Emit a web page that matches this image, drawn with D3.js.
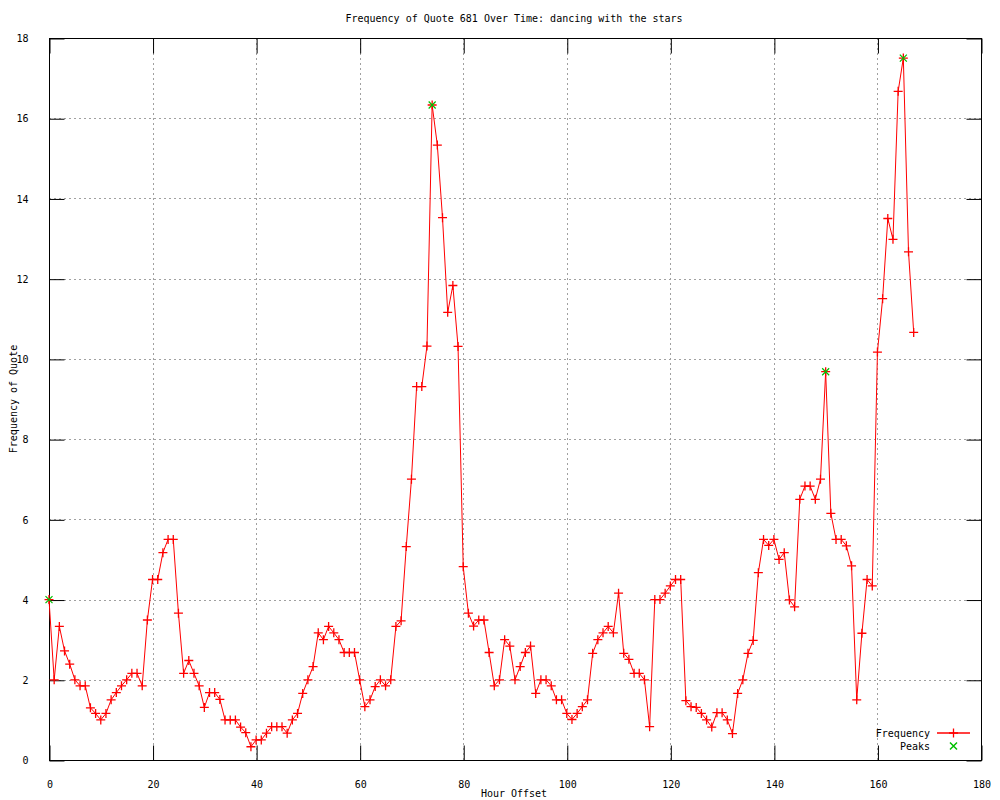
<!DOCTYPE html>
<html>
<head>
<meta charset="utf-8">
<script src="https://cdn.jsdelivr.net/npm/d3@7"></script>
<style>
  body { margin: 0; background: #fff; }
  text { font-family: "DejaVu Sans Mono", monospace; font-size: 10px; fill: #000; }
</style>
</head>
<body>
<div id="chart"></div>
<script>
// hourly frequency of the quote, hour 0..167
const freq = [
  4.00, 2.00, 3.33, 2.72, 2.39, 2.00, 1.85, 1.85, 1.30, 1.16,
  1.00, 1.16, 1.50, 1.68, 1.85, 2.00, 2.16, 2.16, 1.85, 3.49,
  4.50, 4.50, 5.17, 5.50, 5.50, 3.66, 2.16, 2.48, 2.16, 1.85,
  1.31, 1.68, 1.68, 1.51, 1.00, 1.00, 1.00, 0.82, 0.68, 0.33,
  0.50, 0.50, 0.67, 0.83, 0.83, 0.83, 0.67, 1.00, 1.16, 1.66,
  2.00, 2.33, 3.17, 3.00, 3.33, 3.17, 3.00, 2.68, 2.68, 2.68,
  2.00, 1.33, 1.50, 1.83, 2.00, 1.85, 2.00, 3.33, 3.47, 5.32,
  7.00, 9.31, 9.31, 10.32, 16.33, 15.33, 13.52, 11.16, 11.83, 10.31,
  4.82, 3.66, 3.34, 3.49, 3.49, 2.68, 1.85, 2.00, 3.00, 2.84,
  2.00, 2.33, 2.68, 2.84, 1.66, 2.00, 2.00, 1.85, 1.50, 1.50,
  1.16, 1.01, 1.16, 1.33, 1.50, 2.66, 3.00, 3.17, 3.33, 3.17,
  4.16, 2.66, 2.51, 2.16, 2.16, 2.00, 0.83, 4.00, 4.00, 4.16,
  4.34, 4.50, 4.50, 1.48, 1.33, 1.31, 1.16, 1.00, 0.82, 1.18,
  1.18, 1.00, 0.66, 1.66, 2.00, 2.66, 2.98, 4.67, 5.50, 5.35,
  5.50, 5.00, 5.17, 3.99, 3.82, 6.50, 6.83, 6.83, 6.50, 7.00,
  9.68, 6.15, 5.50, 5.50, 5.34, 4.84, 1.50, 3.16, 4.50, 4.34,
  10.17, 11.50, 13.50, 12.98, 16.67, 17.50, 12.67, 10.66
];
const peakHours = [0, 74, 150, 165];
const xTicks = [0, 20, 40, 60, 80, 100, 120, 140, 160, 180];
const yTicks = [0, 2, 4, 6, 8, 10, 12, 14, 16, 18];

const width = 1000, height = 800;
const plotL = 49, plotR = 981, plotT = 38, plotB = 760;

const data = freq.map((v, i) => ({ hour: i, value: v }));
const peaks = peakHours.map(h => ({ hour: h, value: freq[h] }));

const x = d3.scaleLinear().domain([0, 180]).range([plotL, plotR]);
const y = d3.scaleLinear().domain([0, 18]).range([plotB, plotT]);

const svg = d3.select('#chart')
  .append('svg')
  .attr('width', width)
  .attr('height', height);

svg.append('rect')
  .attr('width', width)
  .attr('height', height)
  .attr('fill', '#fff');

// grid
svg.append('g')
  .selectAll('line')
  .data(xTicks.filter(t => t > 0 && t < 180))
  .join('line')
  .attr('x1', d => Math.round(x(d)) + 0.5).attr('x2', d => Math.round(x(d)) + 0.5)
  .attr('y1', plotT).attr('y2', plotB)
  .attr('stroke', '#a0a0a0')
  .attr('stroke-dasharray', '2,3');

svg.append('g')
  .selectAll('line')
  .data(yTicks.filter(t => t > 0 && t < 18))
  .join('line')
  .attr('y1', d => Math.round(y(d)) + 0.5).attr('y2', d => Math.round(y(d)) + 0.5)
  .attr('x1', plotL).attr('x2', plotR)
  .attr('stroke', '#a0a0a0')
  .attr('stroke-dasharray', '2,3');

// axes with ticks pointing inward, mirrored on top and right
const tickLen = 15;
const xAxis = d3.axisBottom(x).tickValues(xTicks).tickSize(-tickLen).tickPadding(tickLen + 5).tickFormat(d3.format('d'));
const yAxis = d3.axisLeft(y).tickValues(yTicks).tickSize(-tickLen).tickPadding(tickLen + 6).tickFormat(d3.format('d'));

svg.append('g').attr('transform', `translate(0.5,${plotB + 0.5})`).call(xAxis);
svg.append('g').attr('transform', `translate(${plotL + 0.5},0.5)`).call(yAxis);
svg.append('g').attr('transform', `translate(0.5,${plotT + 0.5})`)
  .call(d3.axisTop(x).tickValues(xTicks).tickSize(-tickLen).tickFormat(''));
svg.append('g').attr('transform', `translate(${plotR + 0.5},0.5)`)
  .call(d3.axisRight(y).tickValues(yTicks).tickSize(-tickLen).tickFormat(''));

svg.selectAll('.domain').remove();
svg.selectAll('.tick line').attr('stroke', '#000');
svg.selectAll('.tick text').style('font-family', '"DejaVu Sans Mono", monospace').style('font-size', '10px');

svg.append('rect')
  .attr('x', plotL + 0.5).attr('y', plotT + 0.5)
  .attr('width', plotR - plotL).attr('height', plotB - plotT)
  .attr('fill', 'none')
  .attr('stroke', '#000');

// line
const line = d3.line().x(d => x(d.hour)).y(d => y(d.value));
svg.append('path')
  .datum(data)
  .attr('d', line)
  .attr('fill', 'none')
  .attr('stroke', '#ff0000')
  .attr('stroke-width', 1);

// plus markers
svg.append('g')
  .selectAll('path')
  .data(data)
  .join('path')
  .attr('transform', d => `translate(${x(d.hour)},${y(d.value)})`)
  .attr('d', 'M-4.5,0H4.5M0,-4.5V4.5')
  .attr('stroke', '#ff0000')
  .attr('stroke-width', 1.3)
  .attr('fill', 'none');

// peaks
svg.append('g')
  .selectAll('path')
  .data(peaks)
  .join('path')
  .attr('transform', d => `translate(${x(d.hour)},${y(d.value)})`)
  .attr('d', 'M-3.5,-3.5L3.5,3.5M-3.5,3.5L3.5,-3.5')
  .attr('stroke', '#00c000')
  .attr('stroke-width', 1.2)
  .attr('fill', 'none');

// title and labels
svg.append('text')
  .attr('x', 514).attr('y', 22)
  .attr('text-anchor', 'middle')
  .text('Frequency of Quote 681 Over Time: dancing with the stars');

svg.append('text')
  .attr('x', 514).attr('y', 797)
  .attr('text-anchor', 'middle')
  .text('Hour Offset');

svg.append('text')
  .attr('transform', 'translate(17,399) rotate(-90)')
  .attr('text-anchor', 'middle')
  .text('Frequency of Quote');

// legend
const legend = svg.append('g');
legend.append('text').attr('x', 930).attr('y', 737).attr('text-anchor', 'end').text('Frequency');
legend.append('text').attr('x', 930).attr('y', 750).attr('text-anchor', 'end').text('Peaks');
legend.append('line').attr('x1', 937).attr('x2', 970).attr('y1', 733).attr('y2', 733)
  .attr('stroke', '#ff0000').attr('stroke-width', 1.5);
legend.append('path').attr('transform', 'translate(953.5,733)').attr('d', 'M-4.5,0H4.5M0,-4.5V4.5')
  .attr('stroke', '#ff0000').attr('stroke-width', 1.3).attr('fill', 'none');
legend.append('path').attr('transform', 'translate(953.5,746)').attr('d', 'M-3.5,-3.5L3.5,3.5M-3.5,3.5L3.5,-3.5')
  .attr('stroke', '#00c000').attr('stroke-width', 1.5).attr('fill', 'none');
</script>
</body>
</html>
